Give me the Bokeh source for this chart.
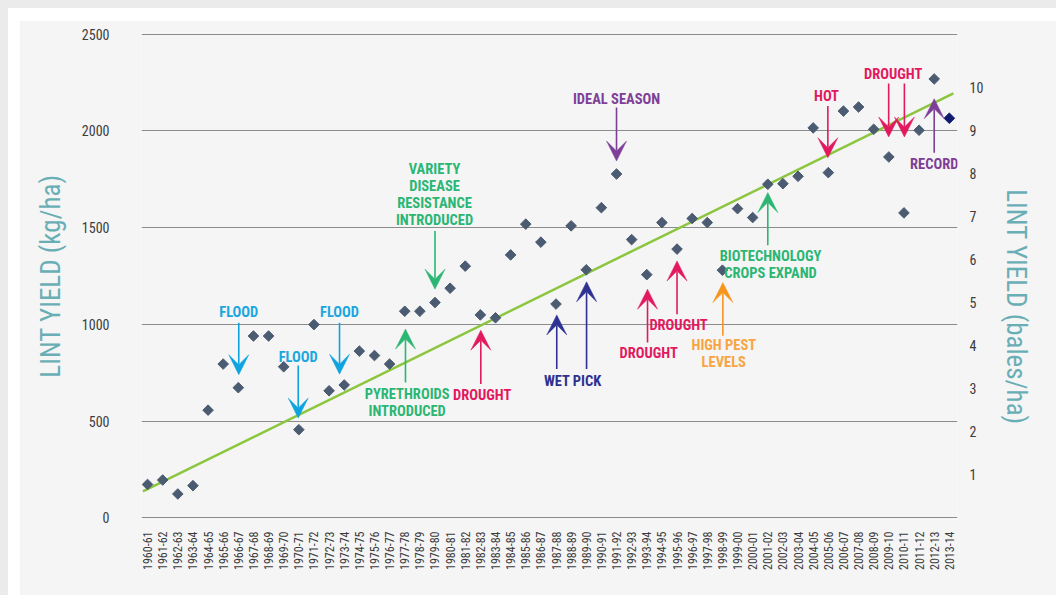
import numpy as np
from bokeh.plotting import figure
from bokeh.layouts import column
from bokeh.models import Range1d, LinearAxis, FixedTicker, Arrow, VeeHead
from bokeh.core.properties import value
from bokeh.embed import file_html
from bokeh.resources import INLINE

# ---------------- data ----------------
seasons = ["1960-61", "1961-62", "1962-63", "1963-64", "1964-65", "1965-66", "1966-67", "1967-68",
           "1968-69", "1969-70", "1970-71", "1971-72", "1972-73", "1973-74", "1974-75", "1975-76",
           "1976-77", "1977-78", "1978-79", "1979-80", "1980-81", "1981-82", "1982-83", "1983-84",
           "1984-85", "1985-86", "1986-87", "1987-88", "1988-89", "1989-90", "1990-91", "1991-92",
           "1992-93", "1993-94", "1994-95", "1995-96", "1996-97", "1997-98", "1998-99", "1999-00",
           "2000-01", "2001-02", "2002-03", "2003-04", "2004-05", "2005-06", "2006-07", "2007-08",
           "2008-09", "2009-10", "2010-11", "2011-12", "2012-13", "2013-14"]

yield_kg = [173, 196, 124, 167, 557, 795, 673, 940, 940, 781,
            456, 999, 657, 687, 862, 839, 795, 1068, 1068, 1113,
            1187, 1301, 1049, 1034, 1359, 1518, 1425, 1105, 1509, 1282,
            1603, 1777, 1438, 1257, 1526, 1389, 1547, 1526, 1280, 1598,
            1552, 1724, 1727, 1765, 2015, 1784, 2102, 2123, 2008, 1865,
            1576, 2003, 2268, 2065]

trend_idx = [-0.31, 53.27]
trend_kg = [137, 2194]

kg_ticks = [0, 500, 1000, 1500, 2000, 2500]
bale_ticks = [1, 2, 3, 4, 5, 6, 7, 8, 9, 10]
kg_per_bale = 222.6

# annotation labels
ann_text = ["FLOOD", "FLOOD", "FLOOD", "PYRETHROIDS\nINTRODUCED",
            "VARIETY\nDISEASE\nRESISTANCE\nINTRODUCED", "DROUGHT", "WET PICK", "IDEAL SEASON",
            "DROUGHT", "DROUGHT", "HIGH PEST\nLEVELS", "BIOTECHNOLOGY\nCROPS EXPAND",
            "HOT", "DROUGHT", "RECORD"]
ann_idx = [6.03, 9.96, 12.69, 17.16, 18.97, 22.12, 28.11, 31.0, 33.13, 35.1, 38.09, 41.18, 44.88, 49.29, 52.0]
ann_kg = [1060, 829, 1060, 595, 1668, 635, 704, 2161, 852, 996, 849, 1307, 2175, 2292, 1827]
ann_kind = ["flood", "flood", "flood", "green", "green", "drought", "wet", "purple",
            "drought", "drought", "pest", "green", "drought", "drought", "purple"]

# arrows
arr_idx = [6.03, 9.96, 12.69, 17.05, 19.0, 22.03, 27.05, 29.02, 31.0, 33.05, 35.0, 38.03, 41.0, 44.97, 48.99, 50.03, 52.0]
arr_kg_start = [1008, 787, 1008, 700, 1483, 692, 769, 769, 2120, 906, 1053, 941, 1409, 2128, 2245, 2245, 1887]
arr_kg_end = [740, 516, 743, 976, 1182, 970, 1049, 1220, 1844, 1182, 1328, 1216, 1681, 1861, 1968, 1968, 2166]
arr_kind = ["flood", "flood", "flood", "green", "green", "drought", "wet", "wet", "purple",
            "drought", "drought", "pest", "green", "drought", "drought", "drought", "purple"]

# ---------------- style ----------------
TEXT_COL = {"flood": "#1aa7e0", "green": "#2bb673", "drought": "#e2195f", "wet": "#2e3192",
            "purple": "#7e3f98", "pest": "#f8a443"}
ARROW_COL = {"flood": "#0fa3df", "green": "#2bb673", "drought": "#e2195f", "wet": "#2e3192",
             "purple": "#7e3f98", "pest": "#f7941d"}
FONT = "'Roboto Condensed', 'Noto Sans Condensed', 'DejaVu Sans Condensed', 'Liberation Sans Narrow', Roboto, sans-serif"
BG = "#f5f5f5"

p = figure(width=1037, height=575, output_backend="svg", toolbar_location=None,
           x_range=Range1d(-0.4, 53.54), y_range=Range1d(-8, 2508),
           min_border_left=122, min_border_right=99, min_border_top=12, min_border_bottom=76,
           background_fill_color=BG, border_fill_color=BG, outline_line_color=None)
p.margin = (12, 0, 0, 11)

p.extra_y_ranges = {"bales": Range1d(-8 / kg_per_bale, 2508 / kg_per_bale)}
raxis = LinearAxis(y_range_name="bales", ticker=FixedTicker(ticks=bale_ticks))
p.add_layout(raxis, "right")

# axes
for ax in [p.yaxis[0], raxis]:
    ax.axis_line_color = None
    ax.major_tick_line_color = None
    ax.minor_tick_line_color = None
    ax.major_label_text_font = FONT
    ax.major_label_text_font_size = "14px"
    ax.major_label_text_color = "#3c3c3c"
    ax.axis_label_text_font = FONT
    ax.axis_label_text_font_style = "normal"
    ax.axis_label_text_font_size = "27px"
    ax.axis_label_text_color = "#6aaeb5"

p.yaxis[0].ticker = FixedTicker(ticks=kg_ticks)
p.yaxis[0].major_label_standoff = 26
p.yaxis[0].axis_label = "LINT YIELD (kg/ha)"
p.yaxis[0].axis_label_standoff = 12
raxis.major_label_standoff = 6
raxis.axis_label = "\u00a0" * 10 + "LINT YIELD (bales/ha)"
raxis.axis_label_standoff = 14

xa = p.xaxis[0]
xa.ticker = FixedTicker(ticks=list(range(len(seasons))))
xa.major_label_overrides = {i: s for i, s in enumerate(seasons)}
xa.major_label_orientation = np.pi / 2
xa.axis_line_color = None
xa.major_tick_line_color = None
xa.minor_tick_line_color = None
xa.major_label_text_font = FONT
xa.major_label_text_font_size = "12px"
xa.major_label_text_color = "#3c3c3c"
xa.major_label_standoff = 6

p.xgrid.visible = False
p.ygrid.ticker = FixedTicker(ticks=kg_ticks)
p.ygrid.grid_line_color = "#8c8c8c"
p.ygrid.grid_line_width = 1.2

# trend line
p.line(trend_idx, trend_kg, line_color="#8cc63f", line_width=2.5)

# points
idx = list(range(len(seasons)))
p.scatter(idx[:-1], yield_kg[:-1], marker="square", angle=np.pi / 4, size=7.5,
          fill_color="#4b5b71", line_color="#4b5b71")
p.scatter(idx[-1:], yield_kg[-1:], marker="square", angle=np.pi / 4, size=7.5,
          fill_color="#101a70", line_color="#101a70")

# arrows
for xi, ys, ye, k in zip(arr_idx, arr_kg_start, arr_kg_end, arr_kind):
    c = ARROW_COL[k]
    p.add_layout(Arrow(x_start=xi, y_start=ys, x_end=xi, y_end=ye, line_color=c, line_width=1.6,
                       end=VeeHead(size=20, fill_color=c, line_color=c, line_width=0.5)))

# annotation texts
p.text(x=ann_idx, y=ann_kg, text=ann_text, text_color=[TEXT_COL[k] for k in ann_kind],
       text_font=value(FONT), text_font_style="bold", text_font_size="14.5px",
       text_align="center", text_baseline="middle", text_line_height=1.0)

page = column(p, styles={"background-color": "white", "border-top": "8px solid #ebebeb",
                         "border-left": "8px solid #ebebeb"})

open("out.html", "w").write(file_html(page, INLINE))
